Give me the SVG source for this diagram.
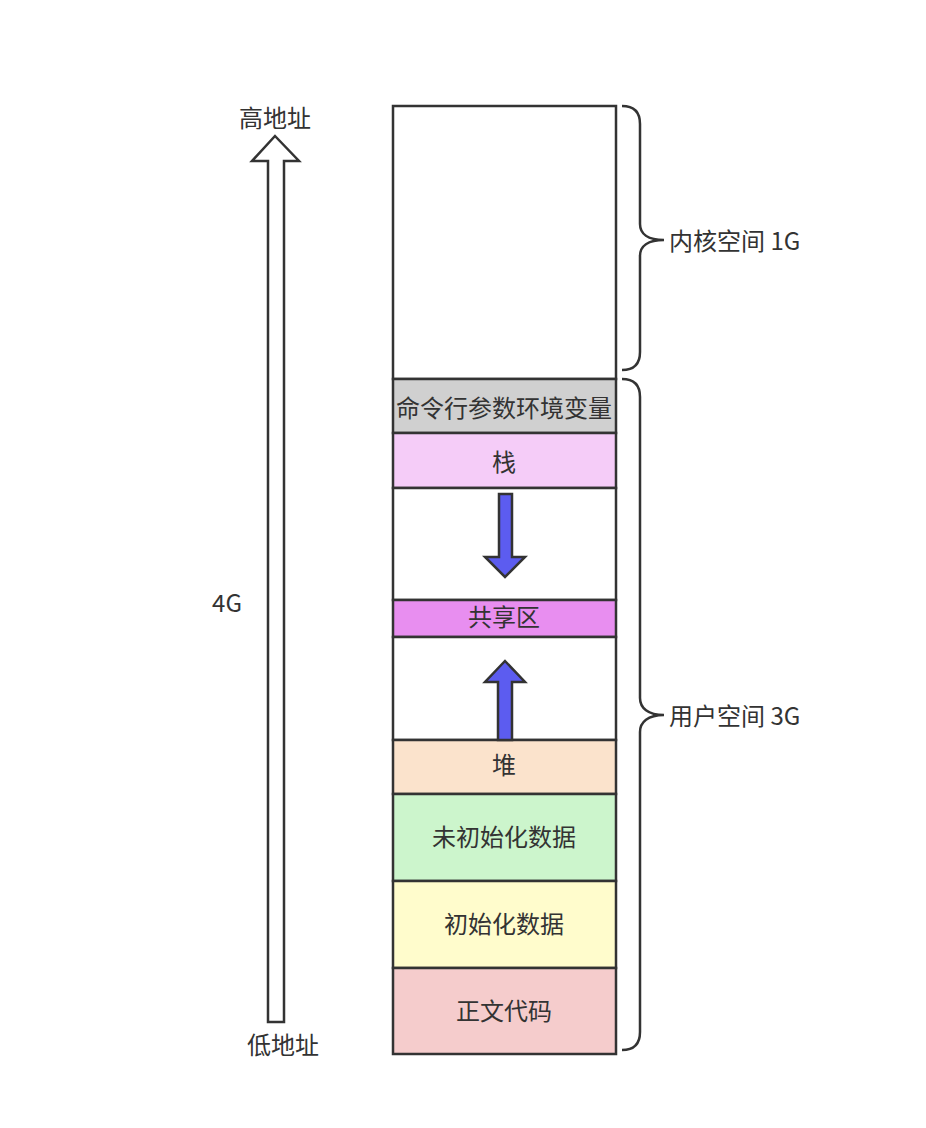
<svg xmlns="http://www.w3.org/2000/svg" width="926" height="1128" viewBox="0 0 926 1128">
<style>
  text { font-family: "Noto Sans CJK SC", "Noto Sans", sans-serif; font-size: 24px; fill: #333333; dominant-baseline: central; }
  .mid { text-anchor: middle; }
  .lbl { font-size: 24px; }
  .seg { stroke: #333333; stroke-width: 2.5; }
  .brace { fill: none; stroke: #333333; stroke-width: 2.5; }
  .blue { fill: #5c5cf0; stroke: #333333; stroke-width: 2.5; stroke-linejoin: miter; }
</style>
<rect width="926" height="1128" fill="#ffffff"/>
<g id="kernel"><rect class="seg" x="393" y="106" width="223" height="273" fill="#ffffff"/></g>
<g id="args"><rect class="seg" x="393" y="379" width="223" height="54" fill="#d0d0d0"/><text class="mid" x="504" y="406">命令行参数环境变量</text></g>
<g id="stack"><rect class="seg" x="393" y="433" width="223" height="55" fill="#f5ccf8"/><text class="mid" x="504" y="460">栈</text></g>
<g id="gap1"><rect class="seg" x="393" y="488" width="223" height="112" fill="#ffffff"/></g>
<g id="shared"><rect class="seg" x="393" y="600" width="223" height="37" fill="#e88ef0"/><text class="mid" x="504" y="615">共享区</text></g>
<g id="gap2"><rect class="seg" x="393" y="637" width="223" height="103" fill="#ffffff"/></g>
<g id="heap"><rect class="seg" x="393" y="740" width="223" height="54" fill="#fbe3cc"/><text class="mid" x="504" y="763">堆</text></g>
<g id="bss"><rect class="seg" x="393" y="794" width="223" height="87" fill="#ccf5cc"/><text class="mid" x="504" y="835">未初始化数据</text></g>
<g id="data"><rect class="seg" x="393" y="881" width="223" height="87" fill="#fffccc"/><text class="mid" x="504" y="922">初始化数据</text></g>
<g id="text"><rect class="seg" x="393" y="968" width="223" height="86" fill="#f5cccc"/><text class="mid" x="504" y="1009">正文代码</text></g>
<g id="connectors">
  <polygon points="275,136 299,161 284,161 284,1022 268,1022 268,161 252,161" fill="#ffffff" stroke="#333333" stroke-width="2.5"/>
  <polygon class="blue" points="499,494 512,494 512,557 525,557 505,577 485,557 499,557"/>
  <polygon class="blue" points="505,661 525,682 512,682 512,740 498,740 498,682 485,682"/>
  <path class="brace" d="M622,106 C634,106 640,112 640,124 V224 C640,234 648,240 664,240 C648,240 640,246 640,256 V352 C640,364 634,370 622,370"/>
  <path class="brace" d="M622,379 C634,379 640,385 640,397 V698 C640,708 648,715 664,715 C648,715 640,722 640,732 V1032 C640,1044 634,1050 622,1050"/>
</g>
<g id="labels">
  <text class="mid lbl" x="275" y="116">高地址</text>
  <text class="mid lbl" x="283" y="1043">低地址</text>
  <text class="mid lbl" x="227" y="601">4G</text>
  <text class="lbl" x="669" y="239">内核空间 1G</text>
  <text class="lbl" x="669" y="714">用户空间 3G</text>
</g>
</svg>
